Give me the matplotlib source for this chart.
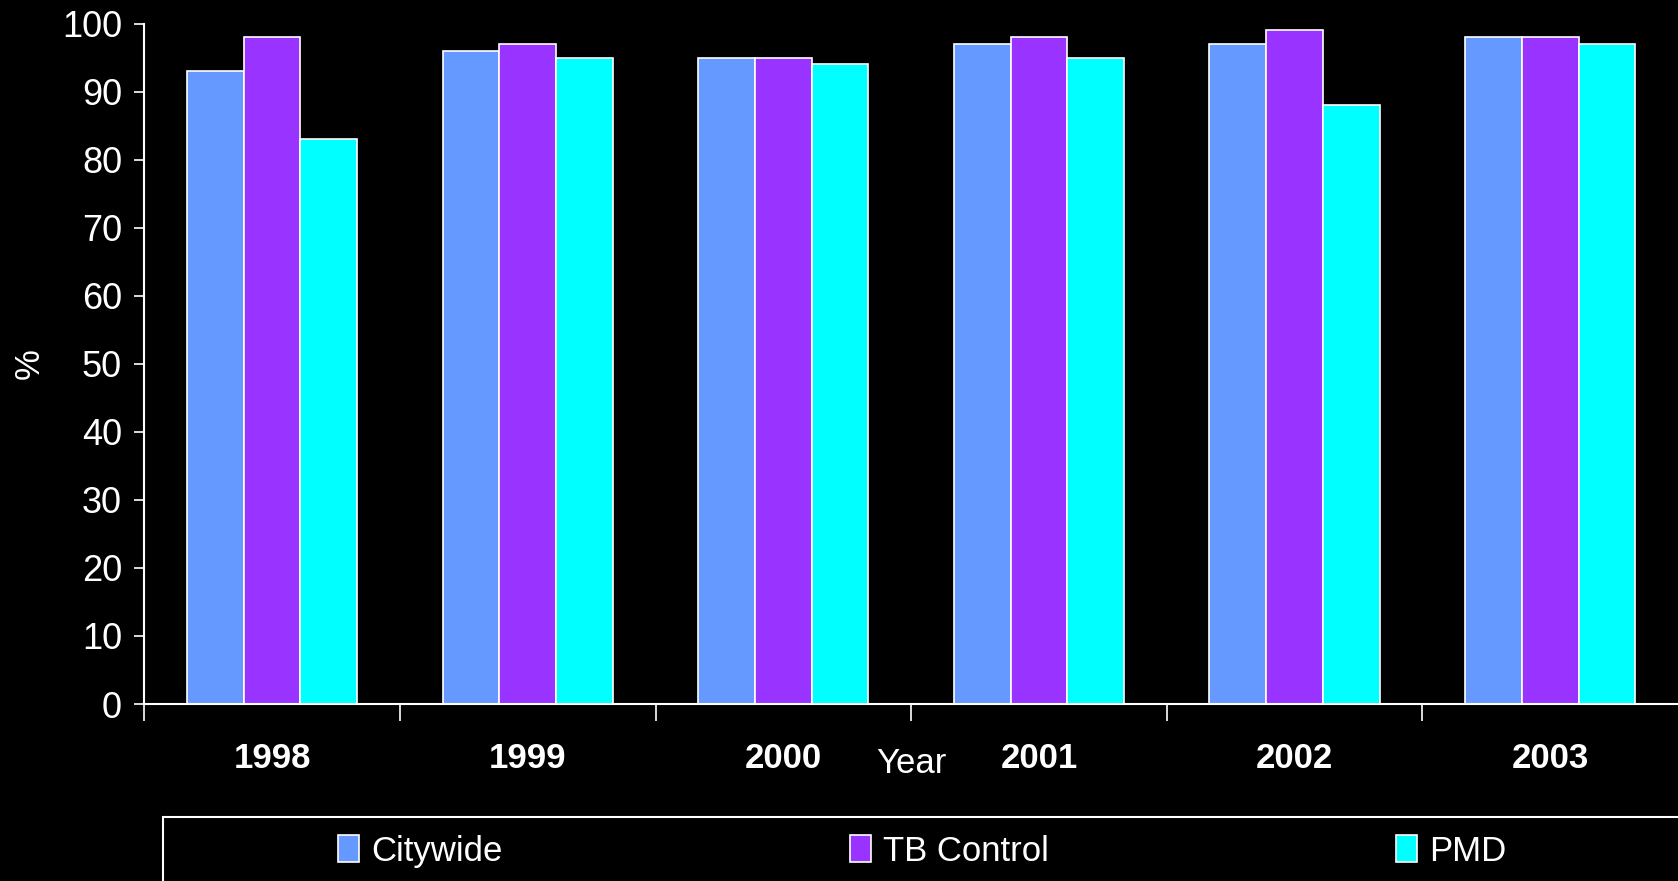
import numpy as np
import matplotlib.pyplot as plt
from matplotlib.patches import Rectangle

years = ['1998', '1999', '2000', '2001', '2002', '2003']
citywide = [93, 96, 95, 97, 97, 98]
tb_control = [98, 97, 95, 98, 99, 98]
pmd = [83, 95, 94, 95, 88, 97]
series = ['Citywide', 'TB Control', 'PMD']
colors = ['#6699FF', '#9933FF', '#00FFFF']

plt.rcParams['font.family'] = ['Liberation Sans', 'DejaVu Sans']

fig = plt.figure(figsize=(16.78, 8.81), dpi=100, facecolor='black')
ax = fig.add_axes([0.086, 0.2009, 0.914, 0.7724], facecolor='black')

x = np.arange(len(years))
w = 0.222
for i, (vals, name, c) in enumerate(zip([citywide, tb_control, pmd], series, colors)):
    ax.bar(x + (i - 1) * w, vals, w, color=c, edgecolor='white', linewidth=1.2, label=name)

ax.set_xlim(-0.5, len(years) - 0.5)
ax.set_ylim(0, 100)
ax.set_yticks(range(0, 101, 10))
ax.tick_params(axis='y', colors='white', labelsize=26, length=7, width=1.2, pad=9)
# category boundaries carry the tick marks, year labels sit in between
ax.set_xticks(x - 0.5)
ax.set_xticklabels([])
ax.set_xticks(x, minor=True)
ax.set_xticklabels(years, minor=True, fontweight='bold')
ax.tick_params(axis='x', which='major', colors='white', length=12, width=1.2)
ax.tick_params(axis='x', which='minor', length=0, labelsize=25, labelcolor='white', pad=27)
for s in ['top', 'right']:
    ax.spines[s].set_visible(False)
for s in ['left', 'bottom']:
    ax.spines[s].set_color('white')
    ax.spines[s].set_linewidth(1.5)

ax.set_ylabel('%', color='white', fontsize=25, labelpad=12)
ax.set_xlabel('Year', color='white', fontsize=25, labelpad=-20)

fig.patches.append(Rectangle((0.0971, -0.2), 1.0, 0.2726, transform=fig.transFigure,
                             fill=False, edgecolor='white', linewidth=1.5))
leg = fig.legend(loc='center left', bbox_to_anchor=(0.2015, 0.034), ncol=3,
                 frameon=False, fontsize=25, handlelength=0.6, handleheight=0.8,
                 handletextpad=0.35, columnspacing=10.0, borderpad=0, borderaxespad=0)
for t in leg.get_texts():
    t.set_color('white')

fig.savefig('out.png', dpi=100, facecolor='black')
